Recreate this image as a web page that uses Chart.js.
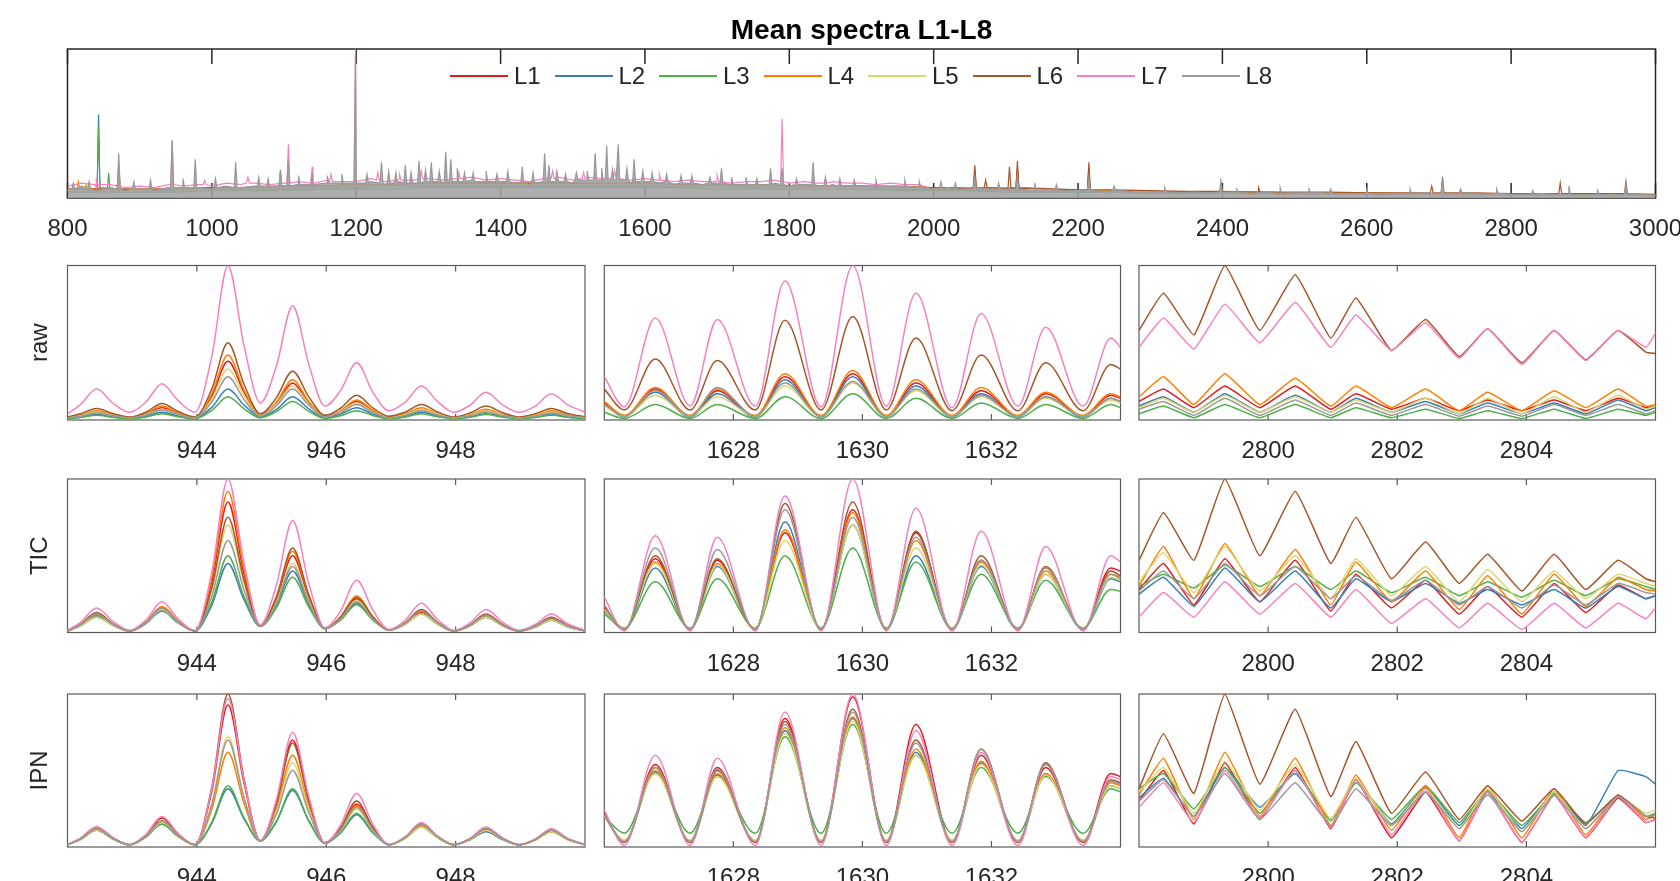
<!DOCTYPE html>
<html>
<head>
<meta charset="utf-8">
<title>Mean spectra L1-L8</title>
<script src="https://cdn.jsdelivr.net/npm/chart.js@4.4.1/dist/chart.umd.min.js"></script>
<style>
  html, body { margin:0; padding:0; background:#fff; }
  body { width:1680px; height:881px; overflow:hidden; position:relative; font-family:'Liberation Sans', Arial, Helvetica, sans-serif; }
  canvas { position:absolute; }
  #legend { position:absolute; left:450px; top:63px; height:26px; display:flex; align-items:center; z-index:5; }
  .item { width:104.5px; display:flex; align-items:center; flex:none; }
  .swatch { width:58px; height:2px; flex:none; }
  .lab { margin-left:6px; font-size:24px; color:#262626; line-height:26px; }
</style>
</head>
<body>
<div id="legend"></div>
<script>
// ---------------- series ----------------
const SERIES = ['L1','L2','L3','L4','L5','L6','L7','L8'];
const COLORS = ['#e41a1c','#377eb8','#4daf4a','#ff7f00','#dcd66e','#a65628','#f781bf','#999999'];
const ROW_LABELS = ['raw', 'TIC', 'IPN'];

// ---------------- top panel (full spectrum) ----------------
const TOP_TICKS = [800,1000,1200,1400,1600,1800,2000,2200,2400,2600,2800,3000];
const topMzFine = [800,820,840,860,880,900,920,940,960,980,
  1000,1020,1040,1060,1080,1100,1120,1140,1160,1180,
  1200,1220,1240,1260,1280,1300,1320,1340,1360,1380,
  1400,1420,1440,1460,1480,1500,1520,1540,1560,1580,
  1600,1620,1640,1660,1680,1700,1720,1740,1760,1780,
  1800,1820,1840,1860,1880,1900,1920,1940,1960,1980,
  2000,2020,2040,2060,2080,2100,2120,2140,2160,2180,
  2200,2220,2240,2260,2280,2300,2320,2340,2360,2380,
  2400,2420,2440,2460,2480,2500,2520,2540,2560,2580,
  2600,2620,2640,2660,2680,2700,2720,2740,2760,2780,
  2800,2820,2840,2860,2880,2900,2920,2940,2960,2980,
  3000];
const topMzCoarse = [800,850,900,950,1000,1050,1100,1150,1200,1250,
  1300,1350,1400,1450,1500,1550,1600,1650,1700,1750,
  1800,1850,1900,1950,2000,2050,2100,2150,2200,2250,
  2300,2350,2400,2450,2500,2550,2600,2650,2700,2750,
  2800,2850,2900,2950,3000];

const topL1 = [5,5,5,5,6,6,7,7,8,8, 9,9,9,9,9,9,9,8,8,8, 7,7,7,7,7,6.5,6.5,6,5,5, 4.5,4,4,4,3.5,3.5,3.5,3,3,3, 3,2.5,2.5,2.5,2];
const topL2 = [5,5,5,5,6,6,6,7,7,8, 8,8,8,8,8,8,8,8,8,7, 7,7,7,6,6,5,5,5,4,4, 4,3.5,3.5,3.5,3,3,3,2.5,2.5,2.5, 2.5,2,2,2,2];
const topL3 = [4,4,4,4,5,5,5,6,6,6, 7,7,7,7,7,7,7,7,6,6, 6,6,6,5,5,5,4,4,4,4, 3,3,3,3,3,2.5,2.5,2.5,2,2, 2,2,2,2,1.5];
const topL4 = [6,7,6,6,7,7,8,8,9,9, 10,10,10,10,10,10,10,9,9,9, 8,8,8,8,7,6.5,6.5,6,5,5, 4.5,4,4,3.5,3.5,3.5,3,3,3,3, 2.5,2.5,2.5,2.5,2];
const topL5 = [5,5,5,5,6,6,7,7,8,8, 9,9,9,9,9,9,9,8,8,8, 7,7,7,7,6.5,6,6,5.5,5,4.5, 4,4,4,4,3.5,3.5,3.5,3,3,3, 3,2.5,2.5,2.5,2];
const topL6 = [6,6,6,6,7,7,8,8,9,9, 10,10,10,10,10,10,10,9,9,9, 8,8,8,7.5,7,6.5,6.5,6.5,5.5,5.5, 5,4.5,4.5,4,4,4,3.5,3.5,3.5,3.5, 3,3,3,3,2.5];
const topL7 = [8,10,7,9,7,8,7,9,8,9,
  8,10,9,10,9,10,11,10,12,11,
  11,13,11,13,12,13,12,13,14,12,
  13,12,11,13,14,12,14,13,14,12,
  13,12,11,12,11,12,10,11,11,12,
  10,11,10,11,10,10,9,10,9,9,
  5.5,6.5,5.5,6.5,5.5,5.5,5.5,4.5,5.5,4.5,
  4.5,4.5,3.5,4.5,3.5,3.5,3.5,3,3.5,3,
  3.5,3,2.5,3.5,2.5,3,2.5,3,2.5,2.5,
  2.5,2,2.5,2.5,3,2.5,2.5,3,2,2.5,
  2,2,2.5,2,2,1.5,2,1.5,2,1.5,
  1.5];
const topL8 = [6,8,5,7,5,6,5,7,6,7,
  6,8,7,8,7,8,9,8,10,9,
  9,11,9,11,10,11,10,11,12,10,
  11,10,9,11,12,10,12,11,12,10,
  11,10,9,10,9,10,8,9,9,10,
  8,9,8,9,8,8,7,8,7,7,
  6,7,6,7,6,6,6,5,6,5,
  5,5,4,5,4,4,4,3.5,4,3.5,
  4,3.5,3,4,3,3.5,3,3.5,3,3,
  3,2.5,3,3,3.5,3,3,3.5,2.5,3,
  2.5,2.5,3,2.5,2.5,2,2.5,2,2.5,2,
  2];

// peaks: [m/z, value at the foot, apex value]
const topPeaksL1 = [[2057,7,18],[2116,7,20],[2215,5,20]];
const topPeaksL2 = [[843,5,56],[871,6,22]];
const topPeaksL3 = [[843,4,48],[857,4,17],[1095,5,19]];
const topPeaksL4 = [[815,6,11],[826,6,9],[871,6,22],[2116,7,18]];
const topPeaksL5 = [[871,5,20],[945,6,30]];
const topPeaksL6 = [[2057,7,22],[2072,7,12],[2105,6.5,21],[2116,6.5,25],[2215,5.5,24],[2450,4,7],[2690,3.5,8],[2705,3.5,14],[2868,3,10],[2959,3,11]];
const topPeaksL7 = [[840,9,12],[870,8,11],[945,9,38],[990,9,12],[1050,10,14],[1106,10,36],[1139,10,21],[1165,11,16],[1199,11,100],[1230,12,17],
  [1260,12,16],[1290,13,18],[1342,13,17],[1472,13,18],[1515,13,17],[1558,13,18],[1620,12,16],[1700,11,15],[1790,11,53],[1850,10,13]];
const topPeaksL8 = [[808,6,10],[830,6,11],[871,6,30],[892,6,11],[915,6,12],[945,7,39],[960,7,13],[977,7,26],[1005,7,13],[1033,7,24],
  [1065,8,14],[1078,8,13],[1095,8,18],[1106,8,25],[1120,9,15],[1139,9,16],[1160,10,15],[1180,10,16],[1199,10,96],[1215,10,16],
  [1235,10,24],[1245,10,18],[1255,10,17],[1268,10,22],[1276,10,17],[1287,10,25],[1296,11,19],[1304,11,24],[1315,11,18],[1324,11,31],
  [1331,11,26],[1340,11,20],[1350,11,17],[1362,11,17],[1380,11,18],[1395,11,16],[1410,11,18],[1430,10,21],[1445,10,17],[1461,11,30],
  [1467,11,22],[1478,11,18],[1490,11,16],[1505,12,17],[1520,12,18],[1531,12,30],[1540,12,20],[1547,12,35],[1555,12,19],[1563,12,36],
  [1575,12,20],[1585,11,26],[1597,11,18],[1610,11,17],[1630,11,16],[1650,10,15],[1665,10,15],[1690,10,14],[1706,10,20],[1720,9,14],
  [1740,9,14],[1755,9,13],[1774,9,20],[1790,9,20],[1810,9,13],[1833,9,24],[1850,8,14],[1870,8,13],[1890,8,12],[1920,8,12],
  [1960,8,12],[1980,7,11],[2010,6,11],[2030,6,10],[2057,6,14],[2090,6,10],[2116,6,15],[2140,5,10],[2170,5,9],[2215,5,14],
  [2250,5,8],[2320,4,7],[2398,4,12],[2420,4,6],[2480,3,7],[2520,3.5,6],[2550,3,6],[2600,3,5.5],[2660,3,6],[2705,3,12],
  [2730,3,6],[2780,3,6],[2830,2.5,5],[2880,2.5,8],[2920,2.5,5],[2959,2.5,9]];
const PEAK_HALF = 2;

// ---------------- zoom panels ----------------
const MZ_A = [942.0, 942.2,942.45,942.7,942.96, 943.21,943.46,943.71,943.97, 944.23,944.48,944.73,944.98, 945.23,945.48,945.73,945.98,
  946.22,946.47,946.72,946.97, 947.22,947.47,947.72,947.97, 948.22,948.47,948.72,948.98, 949.23,949.48,949.73,950.0];
const MZ_B = [1626.0, 1626.31, 1626.79, 1627.33, 1627.75, 1628.34, 1628.80, 1629.36, 1629.85, 1630.37, 1630.83, 1631.39, 1631.84, 1632.41, 1632.84, 1633.42, 1633.85, 1634.0];
const MZ_C = [2798.0, 2798.38, 2798.85, 2799.33, 2799.87, 2800.42, 2800.97, 2801.36, 2801.91, 2802.44, 2802.96, 2803.40, 2803.93, 2804.43, 2804.92, 2805.42, 2805.85, 2806.0];
const RANGE_A = [942, 950], RANGE_B = [1626, 1634], RANGE_C = [2798, 2806];
const TICKS_A = [944, 946, 948], TICKS_B = [1628, 1630, 1632], TICKS_C = [2800, 2802, 2804];

// raw, 942-950
const rawA_L1 = [1.5, 2.7,5,2.9,1.5, 3.8,8,4.1,1.5, 15.4,38,18,3, 10.9,24,11.2,2, 5.5,12,5.7,1.5, 3.4,7,3.7,1.5, 3.1,6,3.3,1.5, 2.7,5,2.9,1.5];
const rawA_L2 = [1, 1.9,3.5,2,1, 2.4,5,2.6,1, 8.2,20,9.6,2, 6.9,15,7.2,1.5, 3.8,8,3.8,1, 2.4,5,2.6,1, 2,4,2.2,1, 1.9,3.5,2,1];
const rawA_L3 = [0.8, 1.6,3,1.7,0.8, 1.9,4,2.1,0.8, 6.2,15,7.2,1.5, 5.5,12,5.6,1, 2.8,6,2.9,0.8, 1.9,4,2.1,0.8, 1.7,3.5,1.9,0.8, 1.6,3,1.7,0.8];
const rawA_L4 = [1.5, 3.1,6,3.3,1.5, 4.1,9,4.5,1.5, 17,42,19.4,3, 11.7,26,12,2, 5.9,13,6.4,2, 4.1,8,4.1,1.5, 3.4,7,3.7,1.5, 3.1,6,3.3,1.5];
const rawA_L5 = [1.5, 2.7,5,2.9,1.5, 3.4,7,3.7,1.5, 13.5,33,15.6,3, 10.2,22,10.4,2, 5.2,11,5.3,1.5, 3.4,7,3.7,1.5, 3.1,6,3.3,1.5, 2.7,5,2.9,1.5];
const rawA_L6 = [2, 4,7.5,4.2,2, 5,10.7,5.5,2, 20,50,23,4, 14.5,31.6,15,3, 7.6,16,7.9,2.5, 5.1,10,5.2,2, 4.5,9,4.8,2, 4,7.5,4.2,2];
const rawA_L7 = [4, 10,20,11,5, 11.5,23.5,12.5,5, 41,100,48,11, 35,74,36,9, 19,37,18,6, 11.5,22,12,5, 9.5,18,10,5, 9,17,10,5];
const rawA_L8 = [1.5, 2.5,4.5,2.7,1.5, 3.2,6.5,3.5,1.5, 11.6,28,13.2,2.5, 9.2,20,9.6,2, 4.8,10,4.9,1.5, 3,6,3.2,1.5, 2.7,5,2.9,1.5, 2.5,4.5,2.7,1.5];
// TIC, 942-950
const ticA_L1 = [1, 4.6,11,5,1, 6,15,6.6,1, 33,85,38,4, 21.5,50,22.5,2.5, 9.5,22,9.7,1.5, 5.6,13,5.8,1, 4.2,10,4.6,1, 3.9,9,4.2,1];
const ticA_L2 = [1, 4.2,10,4.6,1, 5.7,14,6.2,1, 17.7,45,21.2,4, 17.7,40,18.3,2.5, 8.4,19,8.5,1.5, 5.3,12,5.4,1, 4.2,10,4.6,1, 3.5,8,3.8,1];
const ticA_L3 = [1, 4.6,11,5,1, 6,15,6.6,1, 19.6,50,23.3,4, 16.2,36,16.6,2.5, 8.1,18,8.1,1.5, 5.3,12,5.4,1, 4.2,10,4.6,1, 3.5,8,3.8,1];
const ticA_L4 = [1, 5,12,5.4,1, 6.8,17,7.4,1, 35.6,92,41,4, 22.6,53,23.7,2.5, 10.2,24,10.5,1.5, 6,14,6.2,1, 4.6,11,5,1, 3.9,9,4.2,1];
const ticA_L5 = [1, 4.2,10,4.6,1, 6,15,6.6,1, 27,70,31.7,4, 19.6,45,20.4,2.5, 9.2,21,9.3,1.5, 5.3,12,5.4,1, 4.2,10,4.6,1, 3.5,8,3.8,1];
const ticA_L6 = [1, 5.3,13,5.8,1, 6.4,16,7,1, 29,75,34,4, 23.4,55,24.6,2.5, 9.9,23,10.1,1.5, 6.4,15,6.6,1, 5,12,5.4,1, 4.2,10,4.6,1];
const ticA_L7 = [1.5, 6.6,16,7.3,1.5, 8,20,8.9,1.5, 39,100,45,5, 31,73,32,3, 13.9,34,14.8,2, 8,19,8.5,1.5, 6.2,15,6.9,1.5, 5.2,12,5.7,1.5];
const ticA_L8 = [1, 5,12,5.4,1, 6.4,16,7,1, 23.4,60,27.5,4, 18.8,43,19.5,2.5, 8.8,20,8.9,1.5, 6,14,6.2,1, 4.6,11,5,1, 3.9,9,4.2,1];
// IPN, 942-950
const ipnA_L1 = [1.5, 5.6,13,6.1,1.5, 7.8,19,8.5,1.5, 36.3,93,41.4,4, 29,70,30.9,2.5, 11.7,28,12.1,1.5, 6.4,15,6.9,1.5, 5.3,12,5.7,1.5, 4.9,11,5.3,1.5];
const ipnA_L2 = [1.5, 4.9,11,5.3,1.5, 6.4,15,6.9,1.5, 15.4,38,18.3,4, 16.5,37,17,2.5, 9.2,21,9.3,1.5, 5.6,13,6.1,1.5, 4.6,10,4.9,1.5, 4.6,10,4.9,1.5];
const ipnA_L3 = [1.5, 4.9,11,5.3,1.5, 6.4,15,6.9,1.5, 16.1,40,19.1,4, 16.9,38,17.4,2.5, 9.5,22,9.7,1.5, 5.6,13,6.1,1.5, 4.9,11,5.3,1.5, 4.6,10,4.9,1.5];
const ipnA_L4 = [1.5, 5.3,12,5.7,1.5, 7.1,17,7.7,1.5, 24.5,62,28.4,4, 25.3,60,26.7,2.5, 11.3,27,11.7,1.5, 6,14,6.5,1.5, 4.9,11,5.3,1.5, 4.6,10,4.9,1.5];
const ipnA_L5 = [1.5, 4.9,11,5.3,1.5, 6.7,16,7.3,1.5, 28.3,72,32.6,4, 23.4,55,24.5,2.5, 10.6,25,10.9,1.5, 5.6,13,6.1,1.5, 4.9,11,5.3,1.5, 4.6,10,4.9,1.5];
const ipnA_L6 = [1.5, 5.3,12,5.7,1.5, 7.1,17,7.7,1.5, 38.9,100,44.3,4, 28.3,68,30,2.5, 12.4,30,12.9,1.5, 6.4,15,6.9,1.5, 5.3,12,5.7,1.5, 4.9,11,5.3,1.5];
const ipnA_L7 = [1.5, 5.6,13,6.1,1.5, 8.2,20,8.9,1.5, 37.8,97,43,4, 31,75,33,2.5, 14.2,35,14.9,1.5, 6.7,16,7.3,1.5, 5.6,13,6.1,1.5, 5.3,12,5.7,1.5];
const ipnA_L8 = [1.5, 5.3,12,5.7,1.5, 7.1,17,7.7,1.5, 27.5,70,31.7,4, 21.5,50,22.5,2.5, 11,26,11.3,1.5, 6.4,15,6.9,1.5, 5.3,12,5.7,1.5, 4.9,11,5.3,1.5];

// raw, 1626-1634
const rawB_L1 = [11, 2.5, 20, 2.5, 19, 2.5, 28, 2.5, 30, 2.5, 24, 2.5, 19, 2.5, 17, 2.5, 16, 14];
const rawB_L2 = [10, 2, 18, 2, 17, 2, 26, 2, 28, 2, 22, 2, 17, 2, 15, 2, 14, 12];
const rawB_L3 = [5, 1, 10, 1, 10, 1, 15, 1, 17, 1, 14, 1, 11, 1, 10, 1, 10, 8];
const rawB_L4 = [12, 3, 21, 3, 20, 3, 30, 3, 32, 3, 26, 3, 21, 3, 18, 3, 17, 15];
const rawB_L5 = [9, 2.5, 16, 2.5, 15, 2.5, 22, 2.5, 24, 2.5, 19, 2.5, 15, 2.5, 14, 2.5, 13, 11];
const rawB_L6 = [20, 6.5, 39.5, 6.5, 38.5, 6.5, 64.5, 6.5, 67, 6.5, 53, 6, 42, 6, 37, 6, 36, 33];
const rawB_L7 = [28, 8.5, 66, 9, 65, 9, 90, 8.5, 100, 9, 82, 8, 69, 9, 60, 9, 53, 47];
const rawB_L8 = [10, 2.5, 19, 2.5, 21, 2.5, 24, 2.5, 25, 2.5, 20, 2.5, 16, 2.5, 15, 2.5, 14, 12];
// TIC, 1626-1634
const ticB_L1 = [16, 2, 48, 2, 47, 2, 65, 2, 80, 2, 65, 2, 47, 2, 42, 2, 42, 40];
const ticB_L2 = [14, 2, 42, 2, 43, 2, 72, 2, 70, 2, 50, 2, 43, 2, 38, 2, 35, 33];
const ticB_L3 = [12, 3, 33, 3, 35, 3, 50, 3, 55, 3, 46, 3, 38, 3, 34, 3, 28, 27];
const ticB_L4 = [15, 2.5, 46, 2.5, 45, 2.5, 67, 2.5, 78, 2.5, 60, 2.5, 46, 2.5, 40, 2.5, 38, 36];
const ticB_L5 = [15, 2.5, 45, 2.5, 44, 2.5, 60, 2.5, 70, 2.5, 55, 2.5, 44, 2.5, 38, 2.5, 36, 34];
const ticB_L6 = [17, 2, 50, 2, 48, 2, 84, 2, 85, 2, 66, 2, 50, 2, 43, 2, 40, 37];
const ticB_L7 = [23, 1, 63, 1, 62, 1, 89, 1, 100, 1, 81, 1, 66, 1, 56, 1, 50, 46];
const ticB_L8 = [18, 2, 55, 2, 54, 2, 80, 2, 75, 2, 62, 2, 47, 2, 42, 2, 38, 35];
// IPN, 1626-1634
const ipnB_L1 = [22, 3, 54, 3, 52, 3, 84, 3, 98, 3, 80, 3, 60, 3, 52, 3, 48, 46];
const ipnB_L2 = [20, 4, 49, 4, 47, 4, 76, 4, 84, 4, 62, 4, 55, 4, 48, 4, 40, 38];
const ipnB_L3 = [20, 9, 48, 9, 46, 9, 72, 9, 80, 9, 60, 9, 52, 9, 46, 9, 38, 36];
const ipnB_L4 = [20, 4, 50, 4, 48, 4, 78, 4, 85, 4, 64, 4, 56, 4, 48, 4, 42, 40];
const ipnB_L5 = [20, 4.5, 48, 4.5, 46, 4.5, 74, 4.5, 82, 4.5, 60, 4.5, 54, 4.5, 47, 4.5, 40, 38];
const ipnB_L6 = [21, 3, 52, 3, 50, 3, 82, 3, 90, 3, 70, 3, 64, 3, 55, 3, 44, 42];
const ipnB_L7 = [24, 1, 60, 1, 58, 1, 88, 1, 100, 1, 76, 1, 62, 1, 54, 1, 46, 44];
const ipnB_L8 = [21, 3.5, 52, 3.5, 51, 3.5, 80, 3.5, 88, 3.5, 68, 3.5, 64, 3.5, 54, 3.5, 43, 41];

// raw, 2798-2806
const rawC_L1 = [12, 20, 8, 22, 8, 22, 7, 17, 7, 14, 6, 13, 6, 13, 6, 14, 8, 9];
const rawC_L2 = [9, 15, 5, 17, 5, 16, 5, 14, 5, 12, 4, 11, 4, 11, 4, 13, 6, 8];
const rawC_L3 = [4, 9, 1.5, 10, 1.5, 10, 1.5, 8, 1.5, 7, 1, 6, 1, 7, 1, 7, 3, 5];
const rawC_L4 = [15, 28, 10, 30, 10, 27, 9, 22, 8, 20, 6, 18, 6, 19, 8, 20, 9, 10];
const rawC_L5 = [8, 14, 5, 16, 5, 15, 5, 13, 5, 14, 4, 14, 4, 15, 5, 16, 7, 9];
const rawC_L6 = [58, 82, 55, 100, 58, 94, 53, 79, 45, 65, 41, 59, 37, 58, 39, 58, 44, 43];
const rawC_L7 = [47, 66, 46, 75, 50, 76, 47, 68, 45, 63, 40, 59, 36, 58, 38.5, 58, 47, 56];
const rawC_L8 = [7, 12, 3, 14, 3, 13, 3, 11, 3, 10, 2.5, 9, 2.5, 10, 3, 10, 4, 6];
// TIC, 2798-2806
const ticC_L1 = [28, 45, 18, 48, 20, 47, 14, 38, 16, 34, 12, 30, 10, 32, 13, 31, 22, 24];
const ticC_L2 = [25, 36, 17, 42, 20, 40, 16, 35, 20, 32, 19, 28, 18, 28, 16, 30, 22, 24];
const ticC_L3 = [30, 38, 29, 44, 30, 43, 28, 40, 26, 36, 24, 33, 23, 34, 24, 35, 30, 28];
const ticC_L4 = [30, 56, 22, 58, 24, 54, 18, 46, 20, 40, 15, 37, 12, 38, 17, 36, 28, 27];
const ticC_L5 = [33, 52, 26, 56, 27, 50, 22, 48, 24, 43, 20, 41, 20, 40, 22, 38, 32, 30];
const ticC_L6 = [47, 78, 47, 100, 50, 92, 45, 75, 35, 59, 32, 51, 27, 51, 28, 47, 35, 33];
const ticC_L7 = [10, 26, 10, 33, 12, 32, 10, 28, 6, 22, 3, 19, 2, 19, 3, 19, 9, 16];
const ticC_L8 = [27, 40, 22, 45, 24, 43, 22, 37, 21, 34, 18, 30, 16, 31, 18, 32, 26, 25];
// IPN, 2798-2806
const ipnC_L1 = [30, 50, 15, 55, 18, 52, 12, 44, 6, 36, 4, 36, 3, 34, 6, 32, 16, 18];
const ipnC_L2 = [32, 45, 20, 52, 26, 48, 18, 44, 15, 39, 14, 36, 12, 36, 14, 50, 46, 41];
const ipnC_L3 = [38, 48, 25, 52, 22, 50, 17, 42, 18, 40, 16, 37, 14, 35, 16, 33, 20, 22];
const ipnC_L4 = [34, 58, 18, 62, 20, 58, 14, 47, 11, 40, 6, 40, 6, 38, 8, 34, 18, 21];
const ipnC_L5 = [36, 52, 22, 56, 24, 54, 18, 45, 14, 38, 12, 38, 10, 36, 12, 33, 22, 24];
const ipnC_L6 = [38, 74, 35, 100, 41, 90, 33, 69, 22, 49, 18, 40, 17, 38, 15, 34, 20, 19];
const ipnC_L7 = [26, 42, 16, 50, 19, 50, 13, 44, 8, 38, 4, 36, 3, 34, 6, 33, 16, 18];
const ipnC_L8 = [30, 44, 20, 48, 18, 42, 14, 38, 14, 36, 12, 34, 10, 34, 12, 33, 20, 21];

// ---------------- layout & style ----------------
const FONT = "'Liberation Sans', Arial, Helvetica, sans-serif";
const INK = '#262626';
const TOP_RECT = {l: 67.5, r: 1655.5, t: 49, b: 198};
const COLS = [{l: 67.5, r: 585}, {l: 604.3, r: 1120.5}, {l: 1139, r: 1655.5}];
const ROWS = [{t: 265.5, b: 420}, {t: 479, b: 632.5}, {t: 694, b: 847}];

Chart.defaults.font.family = FONT;

const framePlugin = {
  id: 'frame',
  beforeDatasetsDraw(chart, args, o) {
    if (!o || !o.color) return;
    const {ctx, chartArea: a, scales: {x}} = chart;
    ctx.save();
    ctx.strokeStyle = o.color;
    ctx.lineWidth = o.width;
    ctx.strokeRect(a.left, a.top, a.right - a.left, a.bottom - a.top);
    ctx.beginPath();
    x.ticks.forEach(t => {
      const px = x.getPixelForValue(t.value);
      ctx.moveTo(px, a.bottom); ctx.lineTo(px, a.bottom - o.tick);
      ctx.moveTo(px, a.top); ctx.lineTo(px, a.top + o.tick);
    });
    ctx.stroke();
    ctx.restore();
  }
};
Chart.register(framePlugin);

function makeCanvas(left, top, w, h) {
  const c = document.createElement('canvas');
  c.width = w; c.height = h;
  c.style.left = left + 'px'; c.style.top = top + 'px';
  c.style.width = w + 'px'; c.style.height = h + 'px';
  document.body.appendChild(c);
  return c;
}

function xScale(range, ticks, height) {
  return {
    type: 'linear', min: range[0], max: range[1],
    afterBuildTicks: s => { s.ticks = ticks.map(v => ({value: v})); },
    afterFit: s => { s.height = height; s.paddingLeft = 0; s.paddingRight = 0; },
    grid: {display: false, drawTicks: false},
    border: {display: false},
    ticks: {autoSkip: false, maxRotation: 0, padding: 17, color: INK, font: {family: FONT, size: 24}, callback: v => String(v)}
  };
}

// ---------------- top chart ----------------
const TOP_BASE = [topL1, topL2, topL3, topL4, topL5, topL6, topL7, topL8];
const TOP_PEAKS = [topPeaksL1, topPeaksL2, topPeaksL3, topPeaksL4, topPeaksL5, topPeaksL6, topPeaksL7, topPeaksL8];
function topPoints(i) {
  const grid = i >= 6 ? topMzFine : topMzCoarse;
  const pts = grid.map((x, j) => ({x, y: TOP_BASE[i][j]}));
  TOP_PEAKS[i].forEach(([x, foot, apex]) => {
    pts.push({x: x - PEAK_HALF, y: foot}, {x, y: apex}, {x: x + PEAK_HALF, y: foot});
  });
  pts.sort((a, b) => a.x - b.x);
  return pts;
}

(function buildTop() {
  const H = 250;
  const canvas = makeCanvas(0, 0, 1680, H);
  new Chart(canvas, {
    type: 'line',
    data: {
      datasets: SERIES.map((name, i) => ({
        label: name, data: topPoints(i),
        borderColor: COLORS[i], borderWidth: 1.2, pointRadius: 0, tension: 0,
        order: SERIES.length - 1 - i,
        fill: i === 7 ? 'origin' : false,
        backgroundColor: i === 7 ? 'rgba(163,163,163,0.88)' : 'rgba(0,0,0,0)'
      }))
    },
    options: {
      responsive: false, animation: false, events: [], devicePixelRatio: 1,
      layout: {autoPadding: false, padding: {left: TOP_RECT.l, right: 1680 - TOP_RECT.r, top: 0, bottom: 0}},
      plugins: {
        legend: {display: false}, tooltip: {enabled: false},
        title: {display: true, text: 'Mean spectra L1-L8', fullSize: false, color: '#000',
                font: {family: FONT, size: 28, weight: 'bold'}, padding: {top: 14, bottom: 1.4}},
        frame: {color: '#262626', width: 1.5, tick: 15}
      },
      scales: {
        x: xScale([800, 3000], TOP_TICKS, H - TOP_RECT.b),
        y: {display: false, min: 0, max: 100}
      }
    }
  });
})();

// ---------------- zoom panels ----------------
const PANELS = [
  [
    {mz: MZ_A, range: RANGE_A, ticks: TICKS_A, mode: 'smooth', values: [rawA_L1, rawA_L2, rawA_L3, rawA_L4, rawA_L5, rawA_L6, rawA_L7, rawA_L8]},
    {mz: MZ_B, range: RANGE_B, ticks: TICKS_B, mode: 'smooth', values: [rawB_L1, rawB_L2, rawB_L3, rawB_L4, rawB_L5, rawB_L6, rawB_L7, rawB_L8]},
    {mz: MZ_C, range: RANGE_C, ticks: TICKS_C, mode: 'straight', values: [rawC_L1, rawC_L2, rawC_L3, rawC_L4, rawC_L5, rawC_L6, rawC_L7, rawC_L8]}
  ],
  [
    {mz: MZ_A, range: RANGE_A, ticks: TICKS_A, mode: 'smooth', values: [ticA_L1, ticA_L2, ticA_L3, ticA_L4, ticA_L5, ticA_L6, ticA_L7, ticA_L8]},
    {mz: MZ_B, range: RANGE_B, ticks: TICKS_B, mode: 'smooth', values: [ticB_L1, ticB_L2, ticB_L3, ticB_L4, ticB_L5, ticB_L6, ticB_L7, ticB_L8]},
    {mz: MZ_C, range: RANGE_C, ticks: TICKS_C, mode: 'straight', values: [ticC_L1, ticC_L2, ticC_L3, ticC_L4, ticC_L5, ticC_L6, ticC_L7, ticC_L8]}
  ],
  [
    {mz: MZ_A, range: RANGE_A, ticks: TICKS_A, mode: 'smooth', values: [ipnA_L1, ipnA_L2, ipnA_L3, ipnA_L4, ipnA_L5, ipnA_L6, ipnA_L7, ipnA_L8]},
    {mz: MZ_B, range: RANGE_B, ticks: TICKS_B, mode: 'smooth', values: [ipnB_L1, ipnB_L2, ipnB_L3, ipnB_L4, ipnB_L5, ipnB_L6, ipnB_L7, ipnB_L8]},
    {mz: MZ_C, range: RANGE_C, ticks: TICKS_C, mode: 'straight', values: [ipnC_L1, ipnC_L2, ipnC_L3, ipnC_L4, ipnC_L5, ipnC_L6, ipnC_L7, ipnC_L8]}
  ]
];

function buildPanel(ri, ci) {
  const col = COLS[ci], row = ROWS[ri], p = PANELS[ri][ci];
  const cl = ci === 0 ? 0 : Math.floor(col.l - 10);
  const ct = Math.floor(row.t - 10);
  const cr = Math.ceil(col.r + 10);
  const cb = Math.ceil(row.b + 54);
  const canvas = makeCanvas(cl, ct, cr - cl, cb - ct);
  const smooth = p.mode === 'smooth';
  const yWidth = ci === 0 ? col.l - cl : 0;
  new Chart(canvas, {
    type: 'line',
    data: {
      datasets: SERIES.map((name, i) => ({
        label: name,
        data: p.mz.map((x, j) => ({x, y: p.values[i][j]})),
        borderColor: COLORS[i], borderWidth: 1.5, pointRadius: 0, fill: false,
        tension: smooth ? 0.4 : 0.12,
        cubicInterpolationMode: smooth ? 'monotone' : 'default',
        order: SERIES.length - 1 - i
      }))
    },
    options: {
      responsive: false, animation: false, events: [], devicePixelRatio: 1,
      layout: {autoPadding: false, padding: {left: ci === 0 ? 0 : col.l - cl, right: cr - col.r, top: row.t - ct, bottom: 0}},
      plugins: {
        legend: {display: false}, tooltip: {enabled: false}, title: {display: false},
        frame: {color: '#5a5a5a', width: 1.2, tick: 6}
      },
      scales: {
        x: xScale(p.range, p.ticks, cb - row.b),
        y: {
          min: 0, max: 100, display: ci === 0,
          afterFit: s => { s.width = yWidth; },
          grid: {display: false, drawTicks: false}, border: {display: false},
          ticks: {display: false},
          title: {display: ci === 0, text: ROW_LABELS[ri], color: INK, font: {family: FONT, size: 24}, padding: {top: 26, bottom: 0}}
        }
      }
    }
  });
}
for (let r = 0; r < 3; r++) for (let c = 0; c < 3; c++) buildPanel(r, c);

// ---------------- legend ----------------
const legend = document.getElementById('legend');
SERIES.forEach((name, i) => {
  const item = document.createElement('div'); item.className = 'item';
  const sw = document.createElement('span'); sw.className = 'swatch'; sw.style.background = COLORS[i];
  const lab = document.createElement('span'); lab.className = 'lab'; lab.textContent = name;
  item.appendChild(sw); item.appendChild(lab); legend.appendChild(item);
});
</script>
</body>
</html>
